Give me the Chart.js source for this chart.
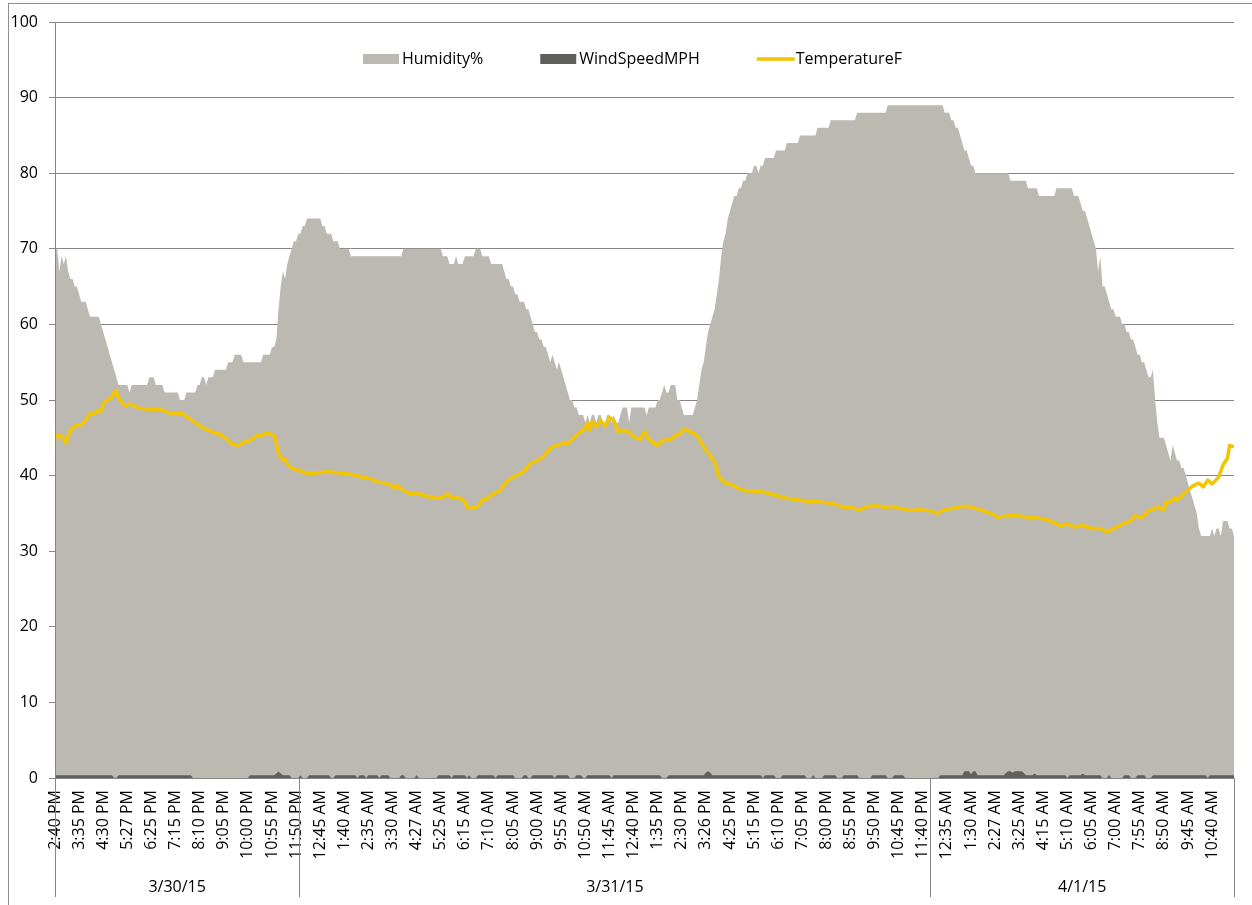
<!DOCTYPE html>
<html>
<head>
<meta charset="utf-8">
<script src="https://cdn.jsdelivr.net/npm/chart.js@4/dist/chart.umd.min.js"></script>
<style>
  html, body { margin: 0; padding: 0; background: #fff; }
  #wrap { position: relative; width: 1252px; height: 905px; }
</style>
</head>
<body>
<div id="wrap"><canvas id="c"></canvas></div>
<script>
// Weather log, 5-minute samples from 3/30/15 2:40 PM to 4/1/15 ~11:30 AM
const sampleCount = 539;

// Axis labels: one time label every 11 samples, dates grouped underneath
const timeLabels = ['2:40 PM','3:35 PM','4:30 PM','5:27 PM','6:25 PM','7:15 PM','8:10 PM','9:05 PM','10:00 PM','10:55 PM','11:50 PM',
  '12:45 AM','1:40 AM','2:35 AM','3:30 AM','4:27 AM','5:25 AM','6:15 AM','7:10 AM','8:05 AM','9:00 AM','9:55 AM','10:50 AM','11:45 AM',
  '12:40 PM','1:35 PM','2:30 PM','3:26 PM','4:25 PM','5:15 PM','6:10 PM','7:05 PM','8:00 PM','8:55 PM','9:50 PM','10:45 PM','11:40 PM',
  '12:35 AM','1:30 AM','2:27 AM','3:25 AM','4:15 AM','5:10 AM','6:05 AM','7:00 AM','7:55 AM','8:50 AM','9:45 AM','10:40 AM'];
const samplesPerLabel = 11;
const dayLabels = ['3/30/15', '3/31/15', '4/1/15'];
const dayFirstSample = [0, 112, 400];

// Humidity % as runs: [first sample, value] holds until the next run starts
const humidityRuns = [[0,70],[2,67],[3,69],[4,68],[5,69],[6,67],[7,66],[9,65],[11,64],[12,63],[15,62],[16,61],[21,60],[22,59],[23,58],[24,57],[25,56],[26,55],[27,54],[28,53],[29,52],[34,51],[35,52],[43,53],[46,52],[50,51],[57,50],[60,51],[65,52],[67,53],[69,52],[70,53],[73,54],[79,55],[82,56],[86,55],[95,56],[99,57],[101,58],[102,62],[103,65],[104,67],[105,66],[106,68],[107,69],[108,70],[109,71],[111,72],[113,73],[115,74],[122,73],[124,72],[127,71],[130,70],[135,69],[159,70],[177,69],[180,68],[183,69],[184,68],[187,69],[192,70],[195,69],[199,68],[205,67],[206,66],[208,65],[210,64],[212,63],[215,62],[217,61],[218,60],[219,59],[221,58],[223,57],[225,56],[226,55],[227,56],[228,55],[229,54],[230,55],[231,54],[232,53],[233,52],[234,51],[235,50],[237,49],[239,48],[242,47],[243,48],[244,47],[245,48],[247,47],[248,48],[250,47],[252,48],[254,47],[255,48],[256,47],[258,48],[259,49],[262,47],[263,49],[270,48],[271,49],[275,50],[277,51],[278,52],[279,51],[281,52],[284,50],[286,49],[287,48],[292,49],[293,50],[294,52],[295,54],[296,55],[297,57],[298,59],[299,60],[300,61],[301,62],[302,64],[303,66],[304,69],[305,71],[306,72],[307,74],[308,75],[309,76],[310,77],[312,78],[314,79],[316,80],[319,81],[321,80],[322,81],[324,82],[329,83],[334,84],[340,85],[348,86],[354,87],[366,88],[380,89],[406,88],[409,87],[411,86],[413,85],[414,84],[415,83],[417,82],[418,81],[420,80],[436,79],[444,78],[449,77],[457,78],[465,77],[468,76],[469,75],[471,74],[472,73],[473,72],[474,71],[475,70],[476,67],[477,69],[478,65],[480,64],[481,63],[482,62],[484,61],[487,60],[489,59],[491,58],[493,57],[494,56],[496,55],[498,54],[499,53],[501,54],[502,50],[503,47],[504,45],[507,44],[508,43],[509,42],[510,44],[511,43],[512,42],[514,41],[516,40],[517,39],[518,38],[519,37],[520,36],[521,35],[522,33],[523,32],[528,33],[529,32],[530,33],[532,32],[533,34],[536,33],[538,32]];

// Wind speed (MPH) as runs, same layout
const windRuns = [[0,0.35],[27,0],[29,0.35],[63,0],[89,0.35],[101,0.6],[102,0.85],[103,0.6],[104,0.35],[108,0],[112,0.35],[113,0],[116,0.35],[126,0],[128,0.35],[138,0],[139,0.35],[142,0],[143,0.35],[148,0],[149,0.35],[153,0],[158,0.35],[160,0],[165,0.35],[166,0],[175,0.35],[181,0],[182,0.35],[188,0],[189,0.35],[190,0],[193,0.35],[201,0],[202,0.35],[210,0],[214,0.35],[216,0],[218,0.35],[228,0],[229,0.35],[235,0],[238,0.35],[241,0],[243,0.35],[254,0],[255,0.35],[277,0],[280,0.35],[297,0.7],[298,0.9],[299,0.7],[300,0.35],[323,0],[324,0.35],[329,0],[332,0.35],[343,0],[346,0.35],[347,0],[351,0.35],[357,0],[360,0.35],[367,0],[373,0.35],[380,0],[383,0.35],[388,0],[404,0.35],[415,0.9],[418,0.5],[419,0.9],[421,0.35],[434,0.7],[435,0.9],[437,0.7],[438,0.9],[442,0.7],[443,0.35],[447,0.6],[448,0.35],[462,0],[463,0.35],[469,0.6],[470,0.35],[478,0],[481,0.35],[482,0],[488,0.35],[491,0],[494,0.35],[498,0],[501,0.35],[526,0],[527,0.35]];

// Temperature °F readings: [sample, value]
const temperatureReadings = [[0,44.7],[1,45.3],[3,45.2],[4,44.7],[5,44.3],[6,45.3],[7,46],[9,46.5],[10,46.7],[12,46.7],[14,47.3],[16,48.2],[18,48.1],[19,48.6],[21,48.5],[22,49.5],[24,50],[26,50.4],[27,51.1],[28,51.2],[29,50.2],[31,49.5],[32,49.2],[34,49.5],[35,49.4],[38,48.9],[42,48.8],[44,48.7],[48,48.8],[51,48.4],[54,48.2],[58,48.2],[59,48],[61,47.6],[64,47],[67,46.4],[70,46],[73,45.6],[75,45.5],[78,44.9],[80,44.3],[83,44],[85,44.2],[87,44.5],[90,44.8],[92,45.3],[94,45.2],[96,45.6],[98,45.5],[100,45.3],[101,44.3],[102,42.9],[104,42],[105,42.2],[106,41.5],[108,41],[112,40.6],[115,40.3],[118,40.3],[121,40.4],[125,40.5],[128,40.4],[134,40.2],[138,40],[140,39.8],[144,39.6],[147,39.2],[150,39],[153,38.8],[155,38.3],[156,38.7],[159,38],[162,37.6],[166,37.6],[168,37.4],[174,37],[177,37.1],[179,37.6],[181,37.1],[185,37],[187,36.5],[188,35.8],[190,35.7],[193,35.9],[195,36.8],[197,36.9],[200,37.6],[203,38],[206,39.2],[209,39.8],[212,40.2],[214,40.6],[217,41.6],[220,42],[223,42.5],[224,43],[227,43.8],[229,44],[231,44.2],[234,44.3],[236,44.7],[237,45.1],[239,45.6],[241,46],[243,46.9],[244,46],[245,47.1],[247,46.5],[249,47.3],[251,46.5],[253,47.7],[255,47.3],[257,45.8],[259,46],[262,45.8],[264,45.1],[267,44.8],[269,45.8],[271,44.8],[273,44.3],[275,44],[277,44.6],[281,44.8],[283,45.3],[285,45.5],[287,46.1],[290,45.8],[293,45.3],[295,44.3],[297,43.3],[299,42.7],[301,41.8],[303,39.8],[306,39],[309,38.8],[312,38.3],[315,38],[322,37.9],[325,37.7],[330,37.3],[334,37],[339,36.8],[343,36.6],[349,36.5],[355,36.3],[360,35.8],[363,35.8],[367,35.5],[371,35.9],[375,36],[379,35.8],[382,35.9],[387,35.6],[390,35.4],[395,35.5],[400,35.3],[403,35],[405,35.4],[410,35.7],[414,35.9],[417,35.9],[421,35.6],[425,35.2],[428,34.9],[430,34.5],[435,34.7],[439,34.7],[444,34.5],[448,34.4],[453,34.2],[456,33.7],[459,33.4],[462,33.6],[465,33.2],[469,33.4],[473,33],[477,33],[480,32.5],[483,33],[486,33.4],[488,33.7],[491,34],[493,34.7],[496,34.4],[499,35.4],[501,35.5],[503,35.9],[506,35.4],[507,36.5],[509,36.5],[511,37.1],[512,36.7],[515,37.6],[517,38.1],[519,38.6],[522,39],[524,38.5],[526,39.4],[528,38.9],[531,39.8],[533,41.4],[535,42.3],[536,44],[538,43.8]];

// Y axis range
const yMin = 0, yMax = 100, yStep = 10;

function expandRuns(runs, n) {
  const pts = [];
  for (let k = 0; k < runs.length; k++) {
    const start = runs[k][0], v = runs[k][1];
    const end = k + 1 < runs.length ? runs[k + 1][0] : n;
    for (let i = start; i < end; i++) pts.push({ x: i, y: v });
  }
  return pts;
}

const FONT = '"Open Sans", "DejaVu Sans", sans-serif';
const AXIS_GREY = '#868686';
const COLORS = { humidity: '#BCB9B2', wind: '#5F605B', temp: '#F2C500' };

// Outer frame, axis lines, date groups and the in-plot legend
const decorations = {
  id: 'decorations',
  beforeDraw(chart) {
    const ctx = chart.ctx;
    ctx.save();
    ctx.fillStyle = '#fff';
    ctx.fillRect(0, 0, chart.width, chart.height);
    ctx.strokeStyle = '#8f8f8f';
    ctx.lineWidth = 1;
    ctx.strokeRect(8.5, 3.5, chart.width + 20, chart.height + 20);
    ctx.restore();
  },
  afterDatasetsDraw(chart) {
    const ctx = chart.ctx, a = chart.chartArea, xs = chart.scales.x;
    ctx.save();
    ctx.strokeStyle = AXIS_GREY;
    ctx.lineWidth = 1;
    const yb = Math.round(a.bottom) + 0.5;
    const xl = Math.round(a.left) + 0.5;
    ctx.beginPath();
    ctx.moveTo(xl, Math.round(a.top));
    ctx.lineTo(xl, yb);
    ctx.lineTo(Math.round(a.right) + 0.5, yb);
    ctx.stroke();

    // date group separators
    const edges = dayFirstSample.map(s => Math.max(0, s - 0.5)).concat([sampleCount - 1]);
    const sepBottom = 897;
    ctx.beginPath();
    edges.forEach(e => {
      const px = Math.round(xs.getPixelForValue(e)) + 0.5;
      ctx.moveTo(px, yb);
      ctx.lineTo(px, sepBottom);
    });
    ctx.stroke();

    ctx.fillStyle = '#000';
    ctx.font = '16px ' + FONT;
    ctx.textAlign = 'center';
    ctx.textBaseline = 'middle';
    dayLabels.forEach((lbl, k) => {
      const x0 = xs.getPixelForValue(edges[k]);
      const x1 = xs.getPixelForValue(edges[k + 1]);
      ctx.fillText(lbl, (x0 + x1) / 2, 887);
    });
    ctx.restore();
  },
  afterDraw(chart) {
    const ctx = chart.ctx;
    ctx.save();
    ctx.font = '16px ' + FONT;
    ctx.textBaseline = 'middle';
    ctx.textAlign = 'left';
    const yc = 59;
    let x = 363;
    chart.data.datasets.slice().sort((p, q) => p.legendRank - q.legendRank).forEach(ds => {
      if (ds.legendKind === 'line') {
        ctx.strokeStyle = ds.borderColor;
        ctx.lineWidth = 3.5;
        ctx.beginPath();
        ctx.moveTo(x, yc);
        ctx.lineTo(x + 38, yc);
        ctx.stroke();
      } else {
        ctx.fillStyle = ds.backgroundColor;
        ctx.fillRect(x, yc - 5, 36, 10);
      }
      const tx = x + 39;
      ctx.fillStyle = '#000';
      ctx.fillText(ds.label, tx, yc + 0.5);
      x = tx + ctx.measureText(ds.label).width + 57;
    });
    ctx.restore();
  }
};

new Chart(document.getElementById('c'), {
  type: 'line',
  data: {
    datasets: [
      {
        label: 'Humidity%',
        data: expandRuns(humidityRuns, sampleCount),
        backgroundColor: COLORS.humidity,
        borderWidth: 0,
        borderColor: 'rgba(0,0,0,0)',
        fill: 'origin',
        pointRadius: 0,
        order: 3,
        legendRank: 1,
        legendKind: 'box'
      },
      {
        label: 'WindSpeedMPH',
        data: expandRuns(windRuns, sampleCount),
        backgroundColor: COLORS.wind,
        borderWidth: 0,
        borderColor: 'rgba(0,0,0,0)',
        fill: 'origin',
        pointRadius: 0,
        order: 2,
        legendRank: 2,
        legendKind: 'box'
      },
      {
        label: 'TemperatureF',
        data: temperatureReadings.map(r => ({ x: r[0], y: r[1] })),
        borderColor: COLORS.temp,
        borderWidth: 3.5,
        borderJoinStyle: 'round',
        fill: false,
        pointRadius: 0,
        tension: 0,
        order: 1,
        legendRank: 3,
        legendKind: 'line'
      }
    ]
  },
  options: {
    responsive: true,
    maintainAspectRatio: false,
    animation: false,
    devicePixelRatio: 1,
    layout: { padding: { left: 0, top: 22, right: 18, bottom: 0 } },
    plugins: { legend: { display: false }, tooltip: { enabled: false } },
    scales: {
      x: {
        type: 'linear',
        min: 0,
        max: sampleCount - 1,
        grid: { display: false, drawTicks: false },
        border: { display: false },
        afterBuildTicks(scale) {
          scale.ticks = timeLabels.map((_, k) => ({ value: k * samplesPerLabel }));
        },
        afterFit(scale) { scale.height = 127; },
        ticks: {
          autoSkip: false,
          minRotation: 90,
          maxRotation: 90,
          padding: 12,
          color: '#000',
          font: { family: FONT, size: 16 },
          callback: (v, i) => timeLabels[i]
        }
      },
      y: {
        min: yMin,
        max: yMax,
        grid: { color: AXIS_GREY, lineWidth: 1, tickLength: 6, drawTicks: true },
        border: { display: true, color: AXIS_GREY, width: 1 },
        afterFit(scale) { scale.width = 55; },
        ticks: {
          stepSize: yStep,
          padding: 11,
          color: '#000',
          font: { family: FONT, size: 16 }
        }
      }
    }
  },
  plugins: [decorations]
});
</script>
</body>
</html>
